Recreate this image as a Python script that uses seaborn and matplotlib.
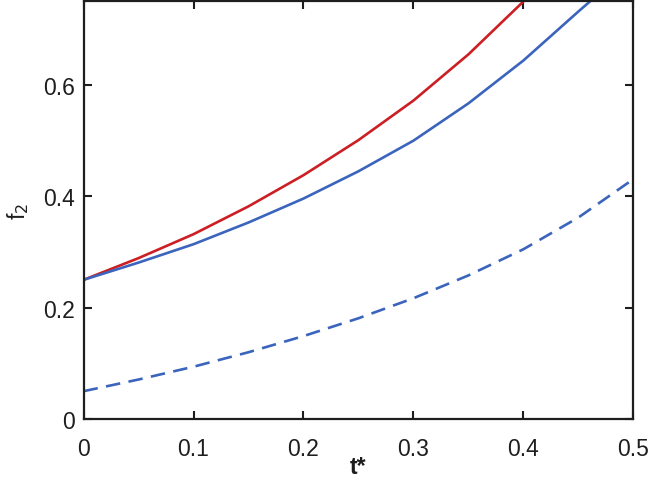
import numpy as np
import pandas as pd
import matplotlib
matplotlib.use("Agg")
import matplotlib.pyplot as plt
import seaborn as sns

# Values
t_red = [0.0, 0.05, 0.10, 0.15, 0.20, 0.25, 0.30, 0.35, 0.40]
f_red = [0.25, 0.289, 0.332, 0.382, 0.438, 0.501, 0.572, 0.655, 0.75]

t_blue = [0.0, 0.05, 0.10, 0.15, 0.20, 0.25, 0.30, 0.35, 0.40, 0.45, 0.4605]
f_blue = [0.25, 0.281, 0.314, 0.353, 0.396, 0.445, 0.500, 0.567, 0.644, 0.732, 0.75]

t_dash = [0.0, 0.05, 0.10, 0.15, 0.20, 0.25, 0.30, 0.35, 0.40, 0.45, 0.50]
f_dash = [0.05, 0.071, 0.094, 0.120, 0.149, 0.181, 0.217, 0.258, 0.305, 0.362, 0.431]

x_ticks = [0, 0.1, 0.2, 0.3, 0.4, 0.5]
x_ticklabels = ["0", "0.1", "0.2", "0.3", "0.4", "0.5"]
y_ticks = [0, 0.2, 0.4, 0.6]
y_ticklabels = ["0", "0.2", "0.4", "0.6"]

df = pd.concat([
    pd.DataFrame({"t": t_red, "f": f_red, "series": "red"}),
    pd.DataFrame({"t": t_blue, "f": f_blue, "series": "blue"}),
    pd.DataFrame({"t": t_dash, "f": f_dash, "series": "dash"}),
])

sns.set_theme(style="white")
plt.rcParams['font.family'] = ['Liberation Sans', 'DejaVu Sans']

fig = plt.figure(figsize=(6.5, 4.89), dpi=100)
ax = fig.add_axes([0.1285, 0.141, 0.9745 - 0.1285, 0.995 - 0.141])

red = "#cc1f24"
blue = "#3b64bd"
sns.lineplot(data=df, x="t", y="f", hue="series", style="series",
             palette={"red": red, "blue": blue, "dash": blue},
             dashes={"red": "", "blue": "", "dash": (5.5, 3.2)},
             linewidth=1.9, legend=False, ax=ax, sort=False,
             solid_joinstyle="round", dash_joinstyle="round")

ax.set_xlim(0, 0.5)
ax.set_ylim(0, 0.75)
ax.set_xticks(x_ticks)
ax.set_xticklabels(x_ticklabels)
ax.set_yticks(y_ticks)
ax.set_yticklabels(y_ticklabels)
ax.tick_params(direction="in", length=6, width=1.5, color="#1e1e1e",
               labelsize=16.5, labelcolor="#1e1e1e", top=True, right=True,
               bottom=True, left=True)
ax.tick_params(axis="x", pad=13)
ax.tick_params(axis="y", pad=6)
for s in ax.spines.values():
    s.set_visible(True)
    s.set_linewidth(1.6)
    s.set_color("#1e1e1e")

ax.set_xlabel("t*", fontsize=16.5, fontweight="bold", color="#1e1e1e", labelpad=-4)
ax.set_ylabel(r"f$_2$", fontsize=16.5, color="#1e1e1e", labelpad=9)

fig.savefig("out.png", dpi=100)
